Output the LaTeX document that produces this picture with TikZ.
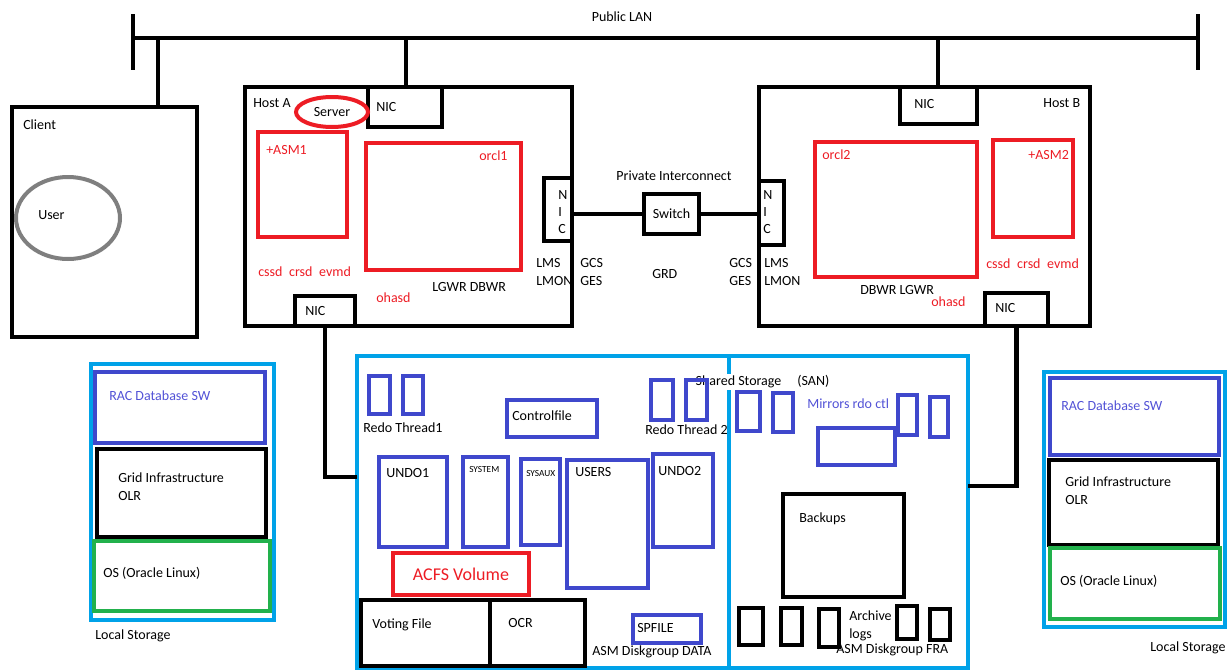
\documentclass[tikz,border=0pt]{standalone}
\usepackage{fontspec}
\setmainfont{Carlito}
\usetikzlibrary{shapes.geometric}

\definecolor{racred}{HTML}{ED1C24}
\definecolor{racblue}{HTML}{3F48CC}
\definecolor{raccyan}{HTML}{00A2E8}
\definecolor{racgreen}{HTML}{22B14C}
\definecolor{racgray}{HTML}{7F7F7F}
\definecolor{bluetext}{HTML}{5252D6}

\tikzset{
	boxK/.style={draw, rectangle, inner sep=0pt, outer sep=0pt, line width=3.5pt},
	boxB/.style={boxK, draw=racblue, line width=3pt},
	boxR/.style={boxK, draw=racred, line width=3pt},
	boxC/.style={boxK, draw=raccyan, line width=3pt},
	boxG/.style={boxK, draw=racgreen, line width=3pt},
	wire/.style={line width=3.5pt},
	lbl/.style={anchor=west, inner sep=0pt, align=left, font=\fontsize{10.5}{13.5}\selectfont},
	redlbl/.style={lbl, text=racred},
	tiny/.style={lbl, font=\fontsize{7}{8}\selectfont}
}

% name, style, x1, y1, x2, y2 (pixel units)
\newcommand{\drawbox}[6]{%
	\node[#2, minimum width={(#5-#3)*0.75pt}, minimum height={(#6-#4)*0.75pt}] (#1) at ({(#3+#5)/2},{(#4+#6)/2}) {};}

\begin{document}
\begin{tikzpicture}[x=0.75pt, y=-0.75pt]
		\useasboundingbox (0,0) rectangle (1230,671);

		% public LAN
		\coordinate (lanL) at (133,38);
		\coordinate (lanR) at (1198,38);
		\draw[wire] (lanL) -- (lanR);
		\draw[wire] (133,14) -- (133,70);
		\draw[wire] (1198,14) -- (1198,70);
		\node[lbl, anchor=center] (lanlbl) at (622,17) {Public LAN};

		% client
		\drawbox{client}{boxK}{12}{107}{197}{337}
		\node[draw=racgray, line width=3pt, ellipse, inner sep=0pt, minimum width={104*0.75pt}, minimum height={82*0.75pt}] (user) at (68,218) {};
		\node[lbl] (clientlbl) at (23,125) {Client};
		\node[lbl] (userlbl) at (38,215) {User};
		\coordinate (tapC) at (158,38);
		\draw[wire] (tapC) -- (tapC |- client.north);

		% host A
		\drawbox{hostA}{boxK}{245}{87}{572}{326}
		\drawbox{nicAtop}{boxK}{368}{87}{442}{127}
		\drawbox{nicAside}{boxK}{544}{178}{572}{241}
		\drawbox{nicAbot}{boxK}{295}{296}{355}{326}
		\drawbox{asm1}{boxR}{258}{132}{347}{237}
		\drawbox{orcl1}{boxR}{366}{143}{521}{270}
		\node[draw=racred, line width=3pt, ellipse, inner sep=0pt, minimum width={72*0.75pt}, minimum height={30*0.75pt}] (server) at (332,112) {};
		\node[lbl, anchor=center] (serverlbl) at (server) {Server};
		\node[lbl] (hostAlbl) at (253,103) {Host A};
		\node[lbl] (nicAtoplbl) at (376,107) {NIC};
		\node[lbl] (nicAbotlbl) at (305,311) {NIC};
		\node[lbl, font=\fontsize{10.5}{12.75}\selectfont] (nicAsidelbl) at (558,212) {N\\I\\C};
		\node[redlbl] (asm1lbl) at (266,150) {+ASM1};
		\node[redlbl] (orcl1lbl) at (479,156) {orcl1};
		\node[redlbl] (crsAlbl) at (258,272) {cssd\hspace{5pt}crsd\hspace{5pt}evmd};
		\node[redlbl] (ohasdA) at (376,298) {ohasd};
		\node[lbl] (bgA) at (432,287) {LGWR DBWR};
		\node[lbl] (lmsA) at (536,272) {LMS\\LMON};
		\node[lbl] (gcsA) at (580,272) {GCS\\GES};
		\coordinate (tapA) at (406,38);
		\draw[wire] (tapA) -- (tapA |- nicAtop.north);

		% private interconnect
		\drawbox{switch}{boxK}{644}{194}{699}{234}
		\node[lbl, anchor=center] (switchlbl) at (switch) {Switch};
		\node[lbl, anchor=center] (privlbl) at (674,176) {Private Interconnect};
		\node[lbl] (grdlbl) at (652,274) {GRD};

		% host B
		\drawbox{hostB}{boxK}{759}{87}{1090}{326}
		\drawbox{nicBtop}{boxK}{900}{87}{977}{124}
		\drawbox{nicBside}{boxK}{759}{181}{784}{245}
		\drawbox{nicBbot}{boxK}{985}{293}{1048}{326}
		\drawbox{orcl2}{boxR}{815}{142}{977}{277}
		\drawbox{asm2}{boxR}{993}{140}{1073}{237}
		\node[lbl] (hostBlbl) at (1043,103) {Host B};
		\node[lbl] (nicBtoplbl) at (914,104) {NIC};
		\node[lbl] (nicBbotlbl) at (995,308) {NIC};
		\node[lbl, font=\fontsize{10.5}{12.75}\selectfont] (nicBsidelbl) at (763,212) {N\\I\\C};
		\node[redlbl] (orcl2lbl) at (822,155) {orcl2};
		\node[redlbl] (asm2lbl) at (1028,155) {+ASM2};
		\node[redlbl] (crsBlbl) at (986,264) {cssd\hspace{5pt}crsd\hspace{5pt}evmd};
		\node[redlbl] (ohasdB) at (931,302) {ohasd};
		\node[lbl] (bgB) at (860,290) {DBWR LGWR};
		\node[lbl] (lmsB) at (764,272) {LMS\\LMON};
		\node[lbl] (gcsB) at (729,272) {GCS\\GES};
		\coordinate (tapB) at (938,38);
		\draw[wire] (tapB) -- (tapB |- nicBtop.north);

		\draw[wire] (switch.west) -- (switch.west -| nicAside.east);
		\draw[wire] (switch.east) -- (switch.east -| nicBside.west);

		% shared storage
		\drawbox{san}{boxC}{357}{356}{968}{668}
		\draw[raccyan, line width=3pt] (san.north) ++(66.5,0) coordinate (sanmid) -- (sanmid |- san.south);
		\node[lbl, fill=white, inner sep=1pt] (sanlbl) at (694,382) {Shared Storage\hspace{12pt}(SAN)};
		\coordinate (sanInA) at (357,477);
		\coordinate (sanInB) at (968,486);
		\draw[wire] (nicAbot.south) |- (sanInA);
		\draw[wire] (nicBbot.south) |- (sanInB);

		% ASM diskgroup DATA
		\drawbox{redoA1}{boxB}{369}{376}{390}{414}
		\drawbox{redoA2}{boxB}{403}{376}{423}{414}
		\drawbox{redoB1}{boxB}{651}{380}{673}{420}
		\drawbox{redoB2}{boxB}{686}{380}{707}{420}
		\drawbox{ctl}{boxB}{507}{400}{597}{437}
		\drawbox{undo1}{boxB}{379}{457}{447}{547}
		\drawbox{system}{boxB}{463}{457}{508}{547}
		\drawbox{sysaux}{boxB}{521}{459}{560}{545}
		\drawbox{users}{boxB}{567}{460}{648}{588}
		\drawbox{undo2}{boxB}{653}{454}{713}{547}
		\drawbox{acfs}{boxR}{393}{553}{529}{595}
		\drawbox{voting}{boxK}{361}{600}{490}{666}
		\drawbox{ocr}{boxK}{490}{600}{585}{666}
		\drawbox{spfile}{boxB}{633}{615}{701}{643}
		\node[lbl] (redoAlbl) at (363,428) {Redo Thread1};
		\node[lbl] (redoBlbl) at (645,430) {Redo Thread 2};
		\node[lbl] (ctllbl) at (512,416) {Controlfile};
		\node[lbl] (undo1lbl) at (386,473) {UNDO1};
		\node[tiny] (systemlbl) at (469,469) {SYSTEM};
		\node[tiny] (sysauxlbl) at (526,473) {SYSAUX};
		\node[lbl] (userslbl) at (575,472) {USERS};
		\node[lbl] (undo2lbl) at (658,471) {UNDO2};
		\node[redlbl, anchor=center, font=\fontsize{13.5}{16}\selectfont] (acfslbl) at (acfs) {ACFS Volume};
		\node[lbl] (votinglbl) at (372,625) {Voting File};
		\node[lbl] (ocrlbl) at (508,623) {OCR};
		\node[lbl] (spfilelbl) at (637,628) {SPFILE};
		\node[lbl] (datalbl) at (592,652) {ASM Diskgroup DATA};

		% ASM diskgroup FRA
		\drawbox{mir1}{boxB}{737}{392}{760}{431}
		\drawbox{mir2}{boxB}{773}{393}{793}{432}
		\drawbox{mir3}{boxB}{898}{395}{917}{435}
		\drawbox{mir4}{boxB}{930}{397}{948}{437}
		\drawbox{mirctl}{boxB}{818}{428}{895}{465}
		\drawbox{backups}{boxK}{783}{494}{904}{597}
		\drawbox{arch1}{boxK}{739}{608}{763}{645}
		\drawbox{arch2}{boxK}{781}{608}{802}{645}
		\drawbox{arch3}{boxK}{819}{609}{839}{647}
		\drawbox{arch4}{boxK}{897}{606}{917}{639}
		\drawbox{arch5}{boxK}{930}{609}{950}{640}
		\node[lbl, text=bluetext] (mirlbl) at (807,404) {Mirrors rdo ctl};
		\node[lbl] (backupslbl) at (799,519) {Backups};
		\node[lbl] (archlbl) at (849,626) {Archive\\logs};
		\node[lbl] (fralbl) at (836,650) {ASM Diskgroup FRA};

		% local storage, host A side
		\drawbox{localA}{boxC}{91}{364}{274}{620}
		\drawbox{racswA}{boxB}{95}{372}{265}{443}
		\drawbox{gridA}{boxK}{97}{449}{266}{537}
		\drawbox{osA}{boxG}{94}{541}{270}{611}
		\node[lbl, text=bluetext] (racswAlbl) at (109,396) {RAC Database SW};
		\node[lbl] (gridAlbl) at (118,487) {Grid Infrastructure\\OLR};
		\node[lbl] (osAlbl) at (103,573) {OS (Oracle Linux)};
		\node[lbl] (localAlbl) at (95,636) {Local Storage};

		% local storage, host B side
		\drawbox{localB}{boxC}{1044}{372}{1225}{627}
		\drawbox{racswB}{boxB}{1050}{378}{1219}{455}
		\drawbox{gridB}{boxK}{1049}{460}{1218}{545}
		\drawbox{osB}{boxG}{1050}{548}{1220}{619}
		\node[lbl, text=bluetext] (racswBlbl) at (1061,406) {RAC Database SW};
		\node[lbl] (gridBlbl) at (1065,491) {Grid Infrastructure\\OLR};
		\node[lbl] (osBlbl) at (1060,581) {OS (Oracle Linux)};
		\node[lbl] (localBlbl) at (1150,648) {Local Storage};
	\end{tikzpicture}
\end{document}
